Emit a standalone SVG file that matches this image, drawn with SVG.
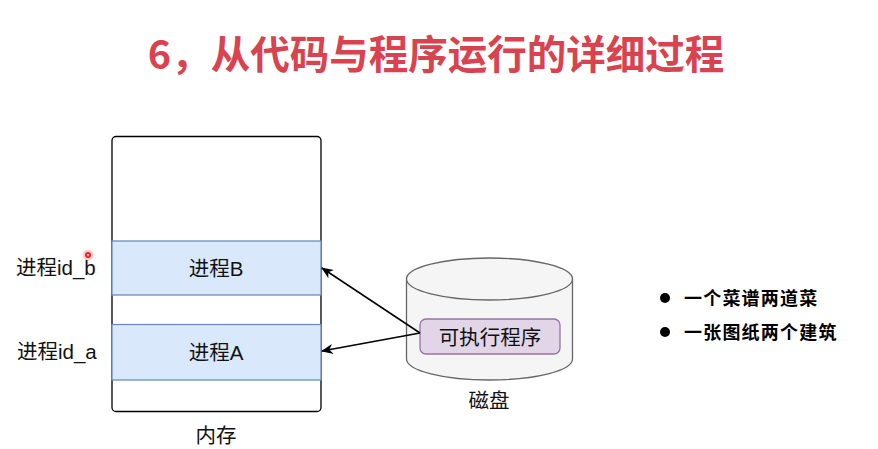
<svg xmlns="http://www.w3.org/2000/svg" width="878" height="449" viewBox="0 0 878 449">
<defs>
<style>
.t{font-family:"Liberation Sans","Noto Sans CJK SC",sans-serif;font-size:20.5px;fill:#111;}
.c{text-anchor:middle;}
.title{font-family:"Noto Sans CJK SC",sans-serif;font-size:39.5px;font-weight:bold;fill:#d9434f;text-anchor:middle;}
.bl{font-family:"Noto Sans CJK SC",sans-serif;font-size:18px;font-weight:bold;letter-spacing:1.2px;fill:#000;}
.band{fill:#dae8fc;stroke:#6c8ebf;stroke-width:1.3;}
.conn{stroke:#000;stroke-width:1.5;fill:none;}
</style>
<marker id="arr" viewBox="0 0 12 10" refX="11" refY="5" markerWidth="12" markerHeight="10" markerUnits="userSpaceOnUse" orient="auto">
<path d="M0,0 L12,5 L0,10 L3.5,5 Z" fill="#000"/>
</marker>
</defs>
<rect width="878" height="449" fill="#fff"/>
<text class="title" x="436" y="69">6，从代码与程序运行的详细过程</text>

<g id="memory">
<rect x="112" y="136.5" width="209" height="275" rx="4" fill="#fff" stroke="#000" stroke-width="1.3"/>
<text class="t c" x="216" y="443">内存</text>
</g>
<g id="procB">
<rect class="band" x="112" y="241" width="209" height="54"/>
<text class="t c" x="216" y="276">进程B</text>
</g>
<g id="procA">
<rect class="band" x="112" y="324.5" width="209" height="55.5"/>
<text class="t c" x="216" y="360">进程A</text>
</g>
<g id="label-b">
<text class="t" x="16" y="275">进程id_b</text>
</g>
<g id="label-a">
<text class="t" x="17" y="359">进程id_a</text>
</g>
<g id="pointer">
<circle cx="88" cy="255" r="5.5" fill="#ff3b3b" opacity="0.25"/>
<circle cx="88" cy="255" r="3" fill="#e8202a"/>
<circle cx="88" cy="255" r="1.2" fill="#ffb0b0"/>
</g>

<g id="disk">
<path d="M406.5,279 L406.5,359 A83,21 0 0 0 572.5,359 L572.5,279" fill="#f5f5f5" stroke="#666" stroke-width="1.3"/>
<ellipse cx="489.5" cy="279" rx="83" ry="21" fill="#f5f5f5" stroke="#666" stroke-width="1.3"/>
<text class="t c" x="489" y="408">磁盘</text>
</g>
<g id="exe">
<rect x="420" y="319" width="140" height="35" rx="6" fill="#e1d5e7" stroke="#9673a6" stroke-width="1.3"/>
<text class="t c" x="490" y="345">可执行程序</text>
</g>

<g id="connectors">
<line class="conn" x1="420" y1="333" x2="322" y2="268" marker-end="url(#arr)"/>
<line class="conn" x1="420" y1="333" x2="322" y2="351" marker-end="url(#arr)"/>
</g>

<g id="bullets">
<circle cx="665" cy="298" r="5" fill="#000"/>
<text class="bl" x="684" y="304.5">一个菜谱两道菜</text>
<circle cx="665" cy="332" r="5" fill="#000"/>
<text class="bl" x="684" y="338.5">一张图纸两个建筑</text>
</g>
</svg>
